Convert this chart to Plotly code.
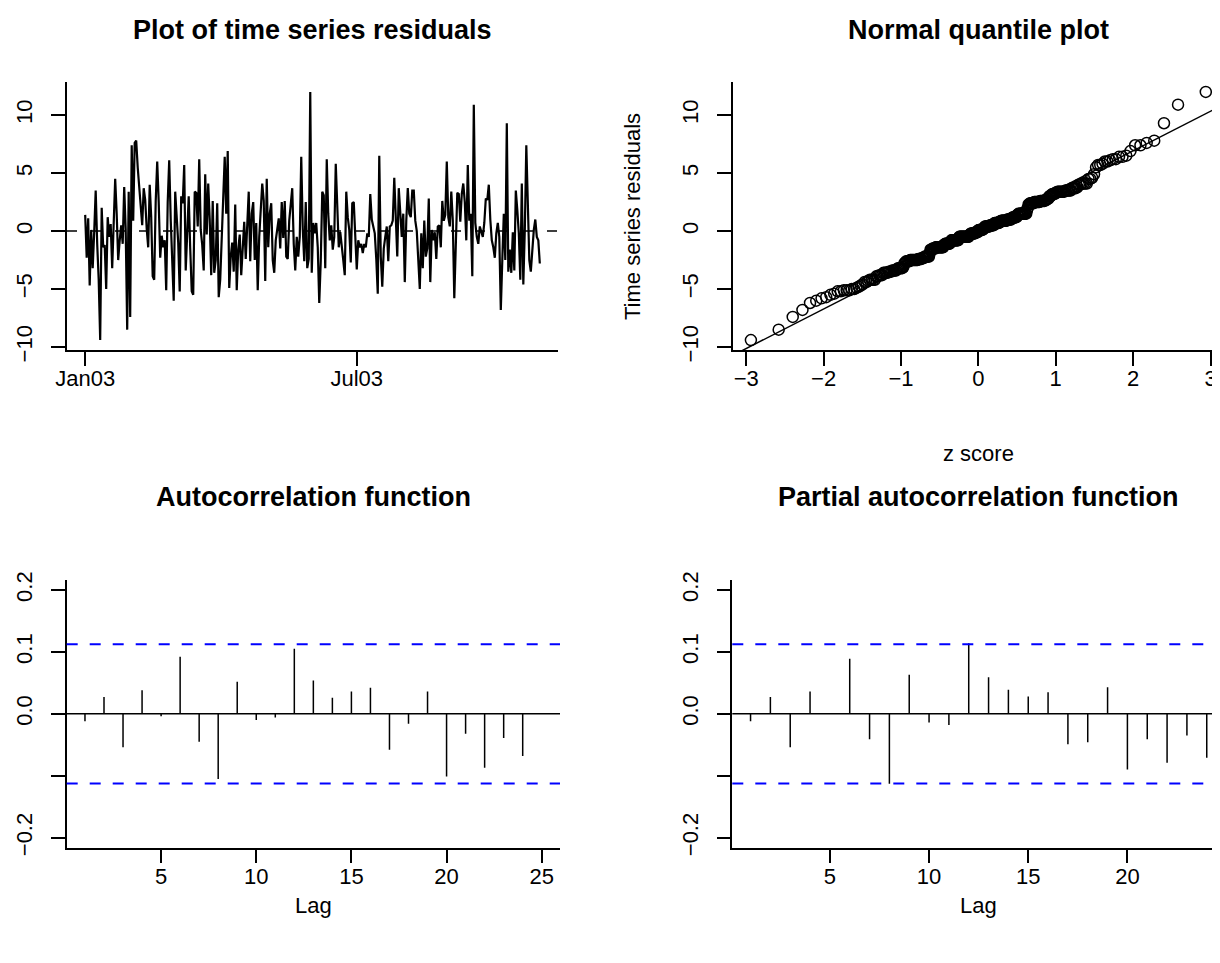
import numpy as np
import pandas as pd
from statistics import NormalDist
import plotly.graph_objects as go

# ---------------- data ----------------
residuals = [
    1.4, -2.3, 1.1, -4.7, 0.1, -3.2, -0.1, 3.5, -1.1, -4.2,
    -9.4, 2.0, -1.4, -1.2, -5.0, 1.2, -0.5, 0.6, -3.2, 0.4,
    4.5, 1.5, -2.5, -0.8, 0.5, -1.1, 3.8, 0.1, -8.5, 3.4,
    -7.4, 7.4, 0.9, 7.6, 7.8, 5.5, 3.5, 2.4, 0.5, 3.7,
    2.7, 0.2, -1.4, 4.0, 1.2, -3.9, -4.2, 2.6, 6.0, 2.5,
    -2.3, -0.4, -1.4, -0.8, -5.1, 2.5, 6.1, 1.0, -3.1, -6.0,
    3.4, 0.8, -1.0, -5.2, 3.0, 2.4, 5.7, -3.4, -0.5, 3.0,
    -1.5, -5.2, -5.5,
    3.4, 3.3, 0.4, 6.2, 0.1, -1.2, -3.4, 4.9, -0.3, 4.1,
    1.0, -3.8, 2.6, -3.6, -2.5, 2.4, -5.7, -4.2, -0.5, 2.6,
    6.4, 1.5, 6.9, -4.9, -2.2, -1.0, -3.5, 2.3, -5.1, -1.6,
    -0.3, -3.8, -0.8, 0.8, -2.4, 0.5, 3.4, -2.6, 1.5, 2.5,
    -2.5, 0.7, -5.1, -0.5, 1.5, 4.1, 2.6, -4.3, 4.5, -1.4,
    1.5, 2.4, -2.5, -3.6, -0.8, 0.3, 1.1, -1.5, 2.5, -0.6,
    2.6, -2.2, -2.4, 0.9, 2.3, 3.7, -1.1, -3.4, -0.5, -2.2,
    -0.5, 6.4, 0.2, -2.6, 2.5, -3.2, -2.4, 12.0, -3.6, 0.7,
    -0.2, 0.7, -1.4, -6.2, -2.6, 3.4, 3.1, -3.2, 6.2, 1.5,
    -0.8, 0.5, -1.6, -0.5, 5.8, 1.0, -1.4, -0.1, -1.1, -2.5,
    -3.8, 3.4, 1.2, 0.1, -2.7, 2.4, 2.5, -0.8, -3.3, -0.8,
    -1.4, -1.1, -1.9, -1.1, -1.4, -0.2, -0.5, 3.2, 1.0, 0.4,
    -0.2, -2.4, -5.4, 6.5, -2.2, -4.8, -1.5, -0.5, 0.4, -2.6,
    0.4, 0.5, 0.9, 4.6, 0.7, -2.2, 3.7, 1.2, -0.5, 1.5,
    -4.4, 0.9, 3.7, 1.5, 1.2, 3.5, 3.5, 0.9, 0.0, -2.5,
    -5.0, -0.2, -3.2, 0.9, -2.2,
    -1.5, 2.8, -4.4, 0.1, -0.8, -0.1, -2.4, 0.4, 0.5, -1.4,
    2.6, 0.9, 1.4, 6.0, 1.2, 0.4, 3.4, 0.9, -5.8, -0.5,
    3.3, 3.2, 0.8, 3.2, 4.1, 2.5, -0.8, 5.7, 0.9, 1.5,
    -3.9, 10.9, 0.7, -0.5, -1.1, 0.4, -0.2, -0.5, 0.7, 2.8,
    2.7, 4.0, 1.0, -0.8, -1.4, -2.3, -0.2, 0.7, -0.5, -6.8,
    -2.5, 1.5, -2.5, 9.3, -3.5, -1.6, -3.6, -0.1, -3.4, 3.5,
    1.8, -0.2, -4.2, 4.1, -4.6, 0.1, 7.4, 1.5, -2.5, -3.5,
    -1.4, 0.1, 1.0, -0.5, -0.8, -2.8,
]
start_date = "2003-01-01"
date_tick_vals = ["2003-01-01", "2003-07-01"]
date_tick_text = ["Jan03", "Jul03"]

acf_lags = list(range(1, 25))
acf_values = [-0.012, 0.027, -0.054, 0.038, -0.004, 0.092, -0.045, -0.105,
              0.052, -0.010, -0.006, 0.105, 0.054, 0.026, 0.036, 0.042,
              -0.058, -0.016, 0.036, -0.101, -0.032, -0.087, -0.039, -0.068]
pacf_lags = list(range(1, 25))
pacf_values = [-0.012, 0.027, -0.054, 0.036, 0.001, 0.089, -0.041, -0.113,
               0.063, -0.014, -0.018, 0.114, 0.059, 0.039, 0.028, 0.035,
               -0.049, -0.046, 0.043, -0.090, -0.041, -0.079, -0.035, -0.071]
conf_bound = 0.1125

corr_tick_vals = [-0.2, -0.1, 0.0, 0.1, 0.2]
corr_tick_text = ["\u22120.2", "", "0.0", "0.1", "0.2"]
res_tick_vals = [-10, -5, 0, 5, 10]
res_tick_text = ["\u221210", "\u22125", "0", "5", "10"]
z_tick_vals = [-3, -2, -1, 0, 1, 2, 3]
z_tick_text = ["\u22123", "\u22122", "\u22121", "0", "1", "2", "3"]

# ---------------- layout geometry (pixels of the 1220x963 page) ----------------
W, H = 1220, 963          # browser window
OFF = 8                   # default page body margin
FW, FH = W - OFF, H - OFF  # figure size so that it ends at the window edge
FONT = "Liberation Sans, Arial, Helvetica, sans-serif"


def fx(p):
    return (p - OFF) / FW


def fy(p):
    return 1 - (p - OFF) / FH


n = len(residuals)
dates = pd.date_range(start_date, periods=n, freq="D")
span = dates[-1] - dates[0]
ts_xr = [str(dates[0] - span * 0.04), str(dates[-1] + span * 0.04)]
rmin, rmax = min(residuals), max(residuals)
rext = 0.04 * (rmax - rmin)
res_yr = [rmin - rext, rmax + rext]

# QQ
nd = NormalDist()
theo = [nd.inv_cdf((i + 0.5) / n) for i in range(n)]
samp = sorted(residuals)
zext = 0.04 * (theo[-1] - theo[0])
z_lo, z_hi = theo[0] - zext, theo[-1] + zext
qq_left_px, qq_full_right_px = 732.7, 1224.0
z_hi_vis = z_lo + (z_hi - z_lo) * (W - qq_left_px) / (qq_full_right_px - qq_left_px)
yq = np.quantile(residuals, [0.25, 0.75])
xq = [nd.inv_cdf(0.25), nd.inv_cdf(0.75)]
slope = (yq[1] - yq[0]) / (xq[1] - xq[0])
intercept = yq[0] - slope * xq[0]

# correlogram ranges (R 4% extension)
acf_ext = 0.04 * (acf_lags[-1] + 1 - acf_lags[0])
acf_xr = [acf_lags[0] - acf_ext, acf_lags[-1] + 1 + acf_ext]
pacf_ext = 0.04 * (pacf_lags[-1] - pacf_lags[0])
pacf_left_px, pacf_full_right_px = 732.3, 1225.0
p_lo, p_hi = pacf_lags[0] - pacf_ext, pacf_lags[-1] + pacf_ext
p_hi_vis = p_lo + (p_hi - p_lo) * (W - pacf_left_px) / (pacf_full_right_px - pacf_left_px)
corr_yr = [-0.2 * 1.08, 0.2 * 1.08]


def stems(lags, vals):
    xs, ys = [], []
    for l, v in zip(lags, vals):
        xs += [l, l, None]
        ys += [0, v, None]
    return xs, ys


fig = go.Figure()
fig.add_trace(go.Scatter(x=dates, y=residuals, mode="lines",
                         line=dict(color="black", width=2.2),
                         xaxis="x", yaxis="y", showlegend=False))
fig.add_trace(go.Scatter(x=theo, y=samp, mode="markers",
                         marker=dict(symbol="circle-open", size=11, color="black",
                                     line=dict(width=1.5, color="black")),
                         xaxis="x2", yaxis="y2", showlegend=False))
fig.add_trace(go.Scatter(x=[z_lo, z_hi_vis],
                         y=[intercept + slope * z_lo, intercept + slope * z_hi_vis],
                         mode="lines", line=dict(color="black", width=1.5),
                         xaxis="x2", yaxis="y2", showlegend=False))
ax, ay = stems(acf_lags, acf_values)
fig.add_trace(go.Scatter(x=ax, y=ay, mode="lines", line=dict(color="black", width=1.5),
                         xaxis="x3", yaxis="y3", showlegend=False))
px_, py_ = stems(pacf_lags, pacf_values)
fig.add_trace(go.Scatter(x=px_, y=py_, mode="lines", line=dict(color="black", width=1.5),
                         xaxis="x4", yaxis="y4", showlegend=False))

base_axis = dict(showline=True, linecolor="black", linewidth=1.5, ticks="outside",
                 ticklen=14, tickwidth=1.5, tickcolor="black", showgrid=False,
                 zeroline=False, mirror=False, automargin=False,
                 tickfont=dict(family=FONT, size=22, color="black"))
xstyle = dict(base_axis, ticklabelstandoff=-6)
ystyle = dict(base_axis, tickangle=-90, ticklabelstandoff=10)

top_y = [fy(350), fy(82)]
bot_y = [fy(847.7), fy(580)]

fig.update_layout(
    width=FW, height=FH, autosize=False,
    margin=dict(l=0, r=0, t=0, b=0, pad=0),
    paper_bgcolor="white", plot_bgcolor="white",
    showlegend=False,
    xaxis=dict(xstyle, domain=[fx(67), fx(558)], range=ts_xr, type="date",
               tickvals=date_tick_vals, ticktext=date_tick_text, anchor="y"),
    yaxis=dict(ystyle, domain=top_y, range=res_yr, tickvals=res_tick_vals,
               ticktext=res_tick_text, anchor="x"),
    xaxis2=dict(xstyle, domain=[fx(qq_left_px), 1.0], range=[z_lo, z_hi_vis],
                tickvals=z_tick_vals, ticktext=z_tick_text, anchor="y2"),
    yaxis2=dict(ystyle, domain=top_y, range=res_yr, tickvals=res_tick_vals,
                ticktext=res_tick_text, anchor="x2"),
    xaxis3=dict(xstyle, domain=[fx(66.7), fx(560)], range=acf_xr,
                tickvals=[5, 10, 15, 20, 25], anchor="y3"),
    yaxis3=dict(ystyle, domain=bot_y, range=corr_yr, tickvals=corr_tick_vals,
                ticktext=corr_tick_text, anchor="x3"),
    xaxis4=dict(xstyle, domain=[fx(pacf_left_px), 1.0], range=[p_lo, p_hi_vis],
                tickvals=[5, 10, 15, 20], anchor="y4"),
    yaxis4=dict(ystyle, domain=bot_y, range=corr_yr, tickvals=corr_tick_vals,
                ticktext=corr_tick_text, anchor="x4"),
)

shapes = [
    dict(type="line", xref="x domain", yref="y", x0=0, x1=1, y0=0, y1=0,
         line=dict(color="black", width=1.5, dash="10px,14px")),
]
for xr, yr in (("x3", "y3"), ("x4", "y4")):
    shapes.append(dict(type="line", xref=xr + " domain", yref=yr, x0=0, x1=1, y0=0, y1=0,
                       line=dict(color="black", width=1.5)))
    for b in (conf_bound, -conf_bound):
        shapes.append(dict(type="line", xref=xr + " domain", yref=yr, x0=0, x1=1,
                           y0=b, y1=b,
                           line=dict(color="#0000FF", width=2, dash="11px,12px")))
fig.update_layout(shapes=shapes)

ann = []


def text(x, y, s, size=22, bold=False, angle=0):
    ann.append(dict(x=fx(x), y=fy(y), xref="paper", yref="paper",
                    text=("<b>" + s + "</b>") if bold else s,
                    showarrow=False, xanchor="center", yanchor="middle",
                    textangle=angle,
                    font=dict(family=FONT, size=size, color="black")))


text(312.5, 30, "Plot of time series residuals", size=27, bold=True)
text(978, 30, "Normal quantile plot", size=27, bold=True)
text(313, 497, "Autocorrelation function", size=27, bold=True)
text(978, 497, "Partial autocorrelation function", size=27, bold=True)
text(978, 453, "z score")
text(632, 217, "Time series residuals", angle=-90)
text(313, 905, "Lag")
text(978, 905, "Lag")
fig.update_layout(annotations=ann)

fig.write_html("out.html")
